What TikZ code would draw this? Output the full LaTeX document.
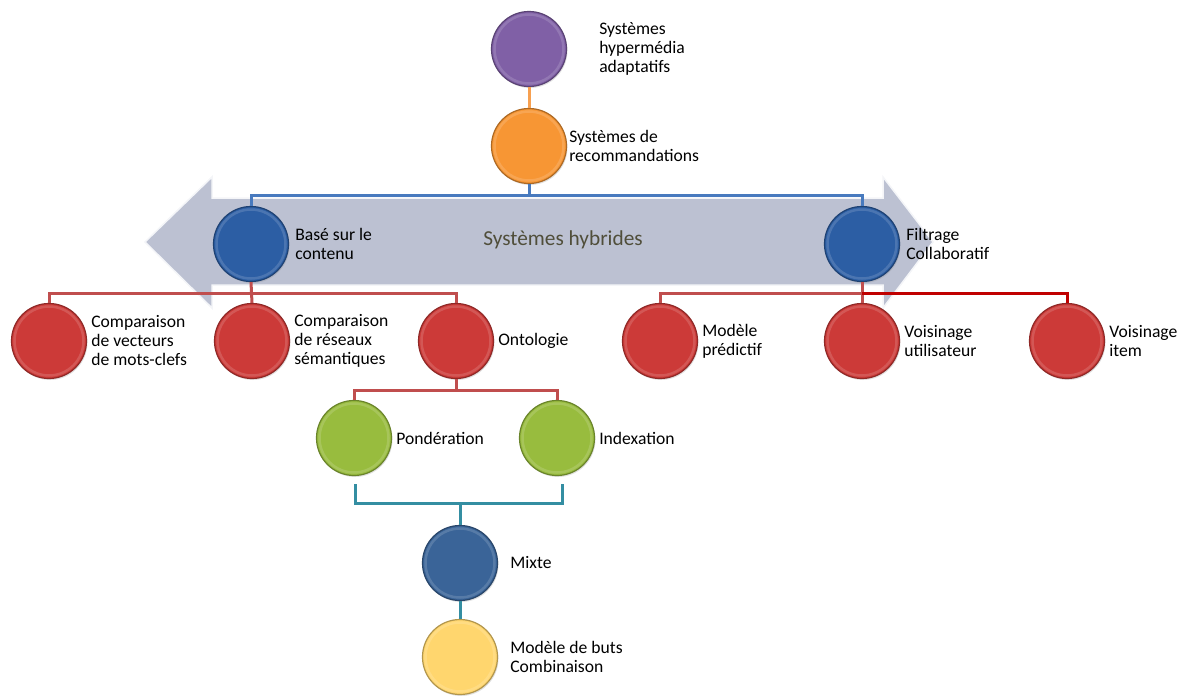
\documentclass[tikz,border=0pt]{standalone}
\usepackage{fontspec}
\setmainfont{Carlito}
\usetikzlibrary{positioning,shadows}

\definecolor{violet}{RGB}{128,96,166}
\definecolor{orangec}{RGB}{247,150,52}
\definecolor{bleu}{RGB}{44,94,164}
\definecolor{rouge}{RGB}{204,58,56}
\definecolor{vert}{RGB}{152,188,62}
\definecolor{bleumix}{RGB}{58,100,152}
\definecolor{jaune}{RGB}{255,214,110}
\definecolor{flechec}{RGB}{184,190,208}
\definecolor{orline}{RGB}{247,160,80}
\definecolor{blline}{RGB}{72,122,190}
\definecolor{rdline}{RGB}{192,78,78}
\definecolor{dkred}{RGB}{192,0,0}
\definecolor{tlline}{RGB}{52,142,162}
\definecolor{hybride}{RGB}{80,78,58}

\tikzset{
  rond/.style={circle, minimum size=75pt, inner sep=0pt, line width=1.2pt,
    fill=#1, draw=#1!70!black,
    path picture={
      \draw[white, opacity=0.15, line width=2.5pt]
        (path picture bounding box.center) circle (34.5pt);},
    drop shadow={opacity=0.25, shadow xshift=1pt, shadow yshift=-1.5pt}},
  lbl/.style={font=\fontsize{17.6}{19}\selectfont, align=left, inner sep=2pt},
  lien/.style={line width=3pt}
}

\begin{document}
\begin{tikzpicture}[x=1pt, y=-1pt]
    \useasboundingbox (0,0) rectangle (1187,696);

    % fleche double (systemes hybrides)
    \draw[fill=flechec, draw=white!85!flechec, line width=1.5pt, fill opacity=0.95]
        (145,242) -- (212,177) -- (212,198) -- (883,198) -- (883,177) -- (933,242)
        -- (883,308) -- (883,285) -- (212,285) -- (212,308) -- cycle;
    \node[font=\fontsize{21.3}{25}\selectfont, text=hybride] (hyb) at (563,240) {Systèmes hybrides};

    % cercles
    \node[rond=violet] (sha) at (529,49) {};
    \node[rond=orangec] (src) at (529,146) {};
    \node[rond=bleu] (bsc) at (251,244) {};
    \node[rond=bleu] (bfc) at (862,244) {};
    \node[rond=rouge] (cvm) at (49,341) {};
    \node[rond=rouge] (crs) at (252,341) {};
    \node[rond=rouge] (ont) at (456,341) {};
    \node[rond=rouge] (mpr) at (660,341) {};
    \node[rond=rouge] (vut) at (862,341) {};
    \node[rond=rouge] (vit) at (1067,341) {};
    \node[rond=vert] (pon) at (354,438) {};
    \node[rond=vert] (idx) at (557,438) {};
    \node[rond=bleumix] (mix) at (460,563) {};
    \node[rond=jaune] (mbc) at (460,657) {};

    % liens
    \coordinate (busb) at (529,195);
    \coordinate (redl) at (252,293);
    \coordinate (redr) at (862,293);
    \coordinate (ontb) at (456,390);
    \coordinate (gl) at (355,484);
    \coordinate (gr) at (562,484);
    \coordinate (gm) at (460,503);

    \draw[lien, orline] (sha) -- (src);
    \draw[lien, blline] (src.south) -- (busb);
    \draw[lien, blline] (bsc.north) |- (busb) -| (bfc.north);
    \draw[lien, rdline] (bsc.south) -- (crs.north);
    \draw[lien, rdline] (cvm.north) |- (redl) -| (ont.north);
    \draw[lien, rdline] (bfc.south) -- (vut.north);
    \draw[lien, rdline] (mpr.north) |- (redr);
    \draw[lien, dkred] (redr) -| (vit.north);
    \draw[lien, rdline] (ont.south) -- (ontb);
    \draw[lien, rdline] (pon.north) |- (ontb) -| (idx.north);
    \draw[lien, tlline] (gl) |- (gm) -| (gr);
    \draw[lien, tlline] (gm) -- (mix.north);
    \draw[lien, tlline] (mix) -- (mbc);

    % textes
    \node[lbl, right=30pt of sha] (tsha) {Systèmes\\hypermédia\\adaptatifs};
    \node[lbl, right=0pt of src] (tsrc) {Systèmes de\\recommandations};
    \node[lbl, right=4pt of bsc] (tbsc) {Basé sur le\\contenu};
    \node[lbl, right=4pt of bfc] (tbfc) {Filtrage\\Collaboratif};
    \node[lbl, right=2pt of cvm] (tcvm) {Comparaison\\de vecteurs\\de mots-clefs};
    \node[lbl, right=2pt of crs] (tcrs) {Comparaison\\de réseaux\\sémantiques};
    \node[lbl, right=2pt of ont] (tont) {Ontologie};
    \node[lbl, right=2pt of mpr] (tmpr) {Modèle\\prédictif};
    \node[lbl, right=2pt of vut] (tvut) {Voisinage\\utilisateur};
    \node[lbl, right=2pt of vit] (tvit) {Voisinage\\item};
    \node[lbl, right=2pt of pon] (tpon) {Pondération};
    \node[lbl, right=2pt of idx] (tidx) {Indexation};
    \node[lbl, right=10pt of mix] (tmix) {Mixte};
    \node[lbl, right=10pt of mbc] (tmbc) {Modèle de buts\\Combinaison};
\end{tikzpicture}
\end{document}
